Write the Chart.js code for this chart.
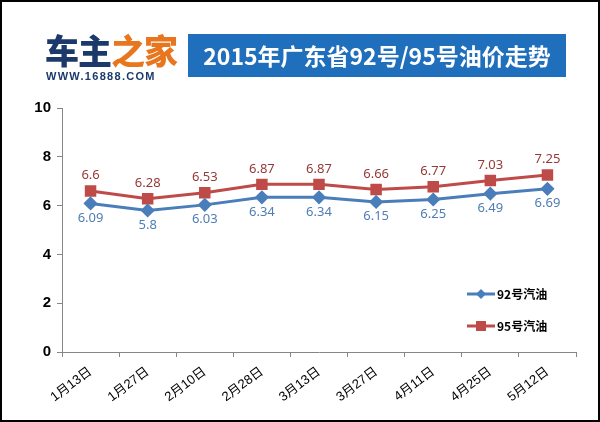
<!DOCTYPE html>
<html>
<head>
<meta charset="utf-8">
<script src="https://cdn.jsdelivr.net/npm/chart.js@4.4.1/dist/chart.umd.min.js"></script>
<style>
  html, body { margin: 0; padding: 0; background: #fff; }
  .wrap { position: relative; width: 600px; height: 422px; box-sizing: border-box; border: 2px solid #000; overflow: hidden; }
  canvas { position: absolute; left: -2px; top: -2px; }
  .logo { position: absolute; left: 43px; top: 27px; font-family: "Noto Sans CJK SC", sans-serif; font-weight: 900; font-size: 34px; line-height: 42px; letter-spacing: -1px; }
  .logo .a { color: #1b3a6b; }
  .logo .b { color: #e8761e; }
  .site { position: absolute; left: 44px; top: 68px; font-family: "Liberation Sans", Arial, sans-serif; font-weight: bold; font-size: 11px; color: #1b3a6b; letter-spacing: 1.3px; }
  .title { position: absolute; left: 186px; top: 32px; width: 378px; height: 43px; background: #1f6fbd; color: #fff; font-family: "Noto Sans CJK SC", sans-serif; font-weight: bold; font-size: 23px; line-height: 43px; text-align: center; }
</style>
</head>
<body>
<div class="wrap">
  <canvas id="oilChart" width="600" height="422"></canvas>
  <div class="logo"><span class="a">车主</span><span class="b">之家</span></div>
  <div class="site">WWW.16888.COM</div>
  <div class="title">2015年广东省92号/95号油价走势</div>
</div>
<script>
// Data
const dates = ['1月13日', '1月27日', '2月10日', '2月28日', '3月13日', '3月27日', '4月11日', '4月25日', '5月12日'];
const price92 = [6.09, 5.8, 6.03, 6.34, 6.34, 6.15, 6.25, 6.49, 6.69];
const price95 = [6.6, 6.28, 6.53, 6.87, 6.87, 6.66, 6.77, 7.03, 7.25];
const yTicks = [0, 2, 4, 6, 8, 10];

const blue = '#4a7ebb';
const red = '#be4b48';

// value labels: 95 above the point, 92 below
const valueLabels = {
  id: 'valueLabels',
  afterDatasetsDraw(chart) {
    const ctx = chart.ctx;
    ctx.save();
    ctx.font = '13px "Noto Sans", sans-serif';
    ctx.textAlign = 'center';
    chart.data.datasets.forEach((ds, i) => {
      const meta = chart.getDatasetMeta(i);
      meta.data.forEach((pt, j) => {
        ctx.fillStyle = ds.labelColor;
        if (ds.labelPos === 'above') {
          ctx.textBaseline = 'bottom';
          ctx.fillText(ds.data[j], pt.x, pt.y - 9);
        } else {
          ctx.textBaseline = 'top';
          ctx.fillText(ds.data[j], pt.x, pt.y + 8);
        }
      });
    });
    ctx.restore();
  }
};

// legend sitting inside the plot, lower right
const insideLegend = {
  id: 'insideLegend',
  afterDraw(chart) {
    const ctx = chart.ctx;
    const rows = [{ y: 294 }, { y: 326 }];
    chart.data.datasets.forEach((ds, i) => {
      const y = rows[i].y;
      ctx.save();
      ctx.strokeStyle = ds.borderColor;
      ctx.lineWidth = 3;
      ctx.beginPath();
      ctx.moveTo(467, y);
      ctx.lineTo(495, y);
      ctx.stroke();
      ctx.fillStyle = ds.backgroundColor;
      ctx.beginPath();
      if (ds.pointStyle === 'rectRot') {
        ctx.moveTo(481, y - 5); ctx.lineTo(486, y); ctx.lineTo(481, y + 5); ctx.lineTo(476, y);
        ctx.closePath();
      } else {
        ctx.rect(476, y - 5, 10, 10);
      }
      ctx.fill();
      ctx.fillStyle = '#000';
      ctx.font = 'bold 12px "Noto Sans CJK SC", sans-serif';
      ctx.textBaseline = 'middle';
      ctx.fillText(ds.label, 497, y);
      ctx.restore();
    });
  }
};

const chart = new Chart(document.getElementById('oilChart'), {
  type: 'line',
  data: {
    labels: dates,
    datasets: [
      {
        label: '92号汽油',
        data: price92,
        borderColor: blue,
        backgroundColor: blue,
        borderWidth: 3,
        pointStyle: 'rectRot',
        pointRadius: 5,
        pointHoverRadius: 5,
        labelColor: '#4f7db5',
        labelPos: 'below'
      },
      {
        label: '95号汽油',
        data: price95,
        borderColor: red,
        backgroundColor: red,
        borderWidth: 3,
        pointStyle: 'rect',
        pointRadius: 6,
        pointHoverRadius: 6,
        labelColor: '#953a36',
        labelPos: 'above'
      }
    ]
  },
  options: {
    responsive: false,
    animation: false,
    layout: { padding: { left: 0, top: 108, right: 24, bottom: 0 } },
    plugins: {
      legend: { display: false },
      tooltip: { enabled: false }
    },
    scales: {
      x: {
        offset: true,
        grid: { display: true, drawOnChartArea: false, offset: true, color: '#868686', tickLength: 5 },
        border: { color: '#868686', width: 1 },
        ticks: {
          color: '#000',
          font: { size: 13, family: '"Liberation Sans", "Noto Sans CJK SC", sans-serif' },
          minRotation: 37,
          maxRotation: 37,
          padding: 7
        },
        afterFit(scale) { scale.height = 70; }
      },
      y: {
        min: 0,
        max: 10,
        afterBuildTicks(scale) { scale.ticks = yTicks.map(v => ({ value: v })); },
        grid: { display: true, drawOnChartArea: false, color: '#868686', tickLength: 5 },
        border: { color: '#868686', width: 1 },
        ticks: {
          color: '#000',
          font: { size: 15, weight: 'bold', family: '"Liberation Sans", Arial, sans-serif' },
          padding: 6
        },
        afterFit(scale) { scale.width = 62; }
      }
    }
  },
  plugins: [valueLabels, insideLegend]
});
</script>
</body>
</html>
